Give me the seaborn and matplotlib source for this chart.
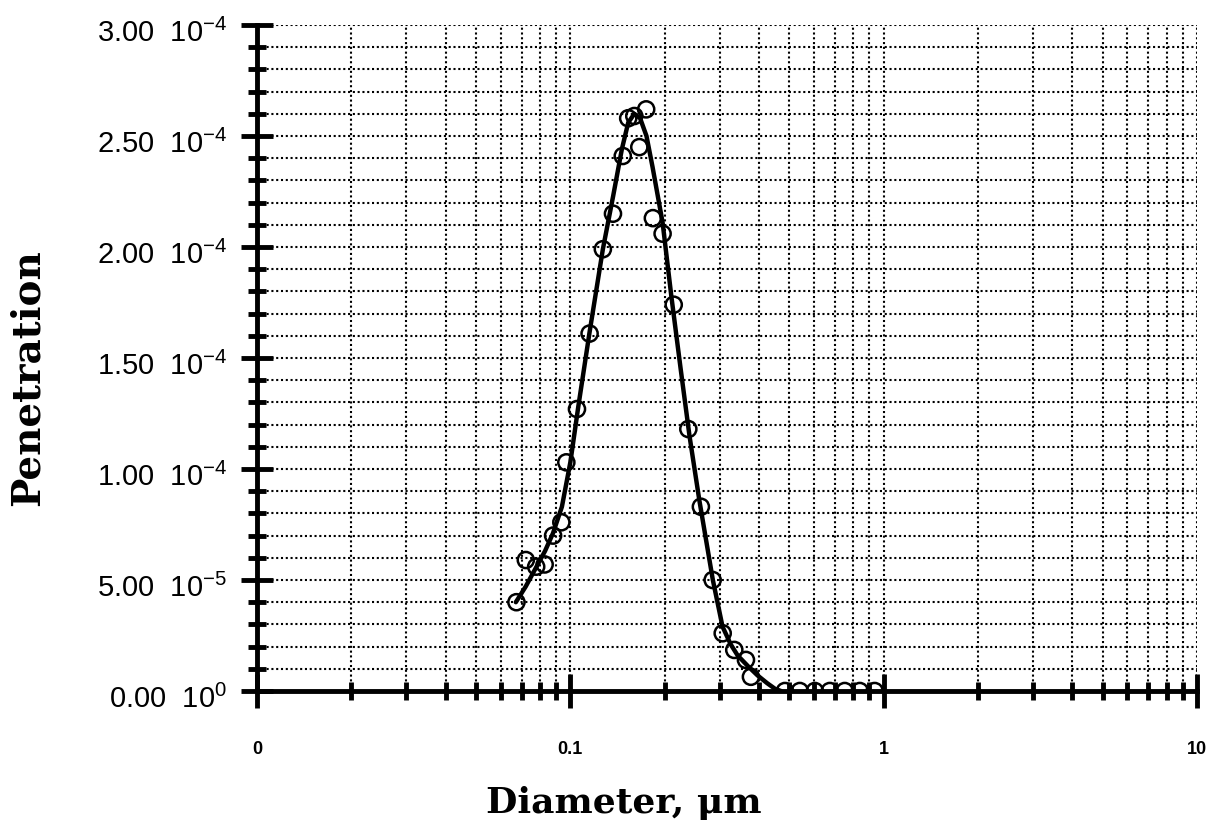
import matplotlib
matplotlib.use("Agg")
import matplotlib.pyplot as plt
import matplotlib.ticker as mticker
import matplotlib.transforms as mtrans
import seaborn as sns
import numpy as np

# ---- data ----
diam = [0.0673, 0.0721, 0.0778, 0.0828, 0.0881, 0.0936, 0.0971, 0.105, 0.1152,
        0.127, 0.1368, 0.147, 0.153, 0.160, 0.166, 0.1746, 0.1834, 0.197, 0.2138,
        0.238, 0.261, 0.2846, 0.3064, 0.3336, 0.3635, 0.377,
        0.484, 0.540, 0.603, 0.673, 0.751, 0.839, 0.936]
pen_e5 = [4.0, 5.9, 5.6, 5.7, 7.0, 7.6, 10.3, 12.7, 16.1,
          19.9, 21.5, 24.1, 25.8, 25.9, 24.5, 26.2, 21.3, 20.6, 17.4,
          11.8, 8.3, 5.0, 2.6, 1.85, 1.4, 0.64,
          0, 0, 0, 0, 0, 0, 0]

fit_diam = [0.067, 0.072, 0.078, 0.083, 0.088, 0.094, 0.100, 0.106, 0.115, 0.127,
            0.137, 0.146, 0.153, 0.160, 0.167, 0.175, 0.183, 0.197, 0.210, 0.225,
            0.240, 0.258, 0.285, 0.306, 0.325, 0.342, 0.370, 0.396, 0.425, 0.450, 0.470]
fit_pen_e5 = [4.0, 4.7, 5.6, 6.3, 7.1, 8.3, 10.3, 12.8, 16.1, 19.9,
              22.3, 24.4, 25.6, 26.0, 25.8, 25.0, 23.6, 21.1, 17.8, 14.5,
              11.5, 8.6, 5.0, 2.9, 2.1, 1.6, 1.1, 0.7, 0.35, 0.1, 0.0]

ytick_vals = [0, 5e-5, 1e-4, 1.5e-4, 2e-4, 2.5e-4, 3e-4]
ytick_labels = [r"0.00  10$^{0}$", r"5.00  10$^{-5}$", r"1.00  10$^{-4}$", r"1.50  10$^{-4}$",
                r"2.00  10$^{-4}$", r"2.50  10$^{-4}$", r"3.00  10$^{-4}$"]
xtick_vals = [0.01, 0.1, 1, 10]
xtick_labels = ["0", "0.1", "1", "10"]

pen = [v * 1e-5 for v in pen_e5]
fit_pen = [v * 1e-5 for v in fit_pen_e5]

# ---- style ----
sns.set_style("white")
plt.rcParams["font.family"] = ["Liberation Sans", "DejaVu Sans"]
plt.rcParams["mathtext.fontset"] = "custom"
plt.rcParams["mathtext.rm"] = "Liberation Sans"
plt.rcParams["mathtext.it"] = "Liberation Sans:italic"
plt.rcParams["mathtext.bf"] = "Liberation Sans:bold"
plt.rcParams["text.color"] = "black"
plt.rcParams["xtick.color"] = "black"
plt.rcParams["ytick.color"] = "black"

W, H = 1214, 823
fig = plt.figure(figsize=(W / 100, H / 100), dpi=100)
ax = fig.add_axes([257 / W, 1 - 691 / H, 940 / W, 666 / H])

ax.set_xscale("log")
ax.set_xlim(0.01, 10)
ax.set_ylim(0, 3e-4)

# grid
ax.yaxis.set_major_locator(mticker.FixedLocator(ytick_vals))
ax.yaxis.set_minor_locator(mticker.MultipleLocator(1e-5))
ax.xaxis.set_major_locator(mticker.FixedLocator(xtick_vals))
ax.xaxis.set_minor_locator(mticker.LogLocator(base=10, subs=np.arange(2, 10)))
ax.grid(which="both", color="black", linestyle=(0, (1.0, 1.3)), linewidth=1.5, zorder=0)
ax.set_axisbelow(True)

# data
sns.lineplot(x=fit_diam, y=fit_pen, ax=ax, color="black", linewidth=3.2,
             sort=False, estimator=None, zorder=3)
sns.scatterplot(x=diam, y=pen, ax=ax, marker="o", s=135, zorder=4)
coll = ax.collections[-1]
coll.set_facecolor("none")
coll.set_edgecolor("black")
coll.set_linewidth(1.8)

# spines
for s in ["top", "right"]:
    ax.spines[s].set_visible(False)
for s in ["left", "bottom"]:
    ax.spines[s].set_linewidth(3.5)
    ax.spines[s].set_color("black")
    ax.spines[s].set_zorder(5)

ax.set_yticks(ytick_vals, ytick_labels)
ax.set_xticks(xtick_vals, xtick_labels)
ax.xaxis.set_minor_formatter(mticker.NullFormatter())

ax.tick_params(which="both", left=True, bottom=True, top=False, right=False)
ax.tick_params(axis="y", which="major", direction="inout", length=23, width=3.5,
               labelsize=21, pad=10, color="black", labelcolor="black")
ax.tick_params(axis="y", which="minor", direction="inout", length=13, width=3.5, color="black")
ax.tick_params(axis="x", which="major", direction="inout", length=24, width=3.5,
               labelsize=13, pad=24, color="black", labelcolor="black")
ax.tick_params(axis="x", which="minor", direction="inout", length=13, width=3.5, color="black")
for lab in ax.get_xticklabels():
    lab.set_fontweight("bold")

off = mtrans.ScaledTranslation(0, -5 / 100, fig.dpi_scale_trans)
for lab in ax.get_yticklabels():
    lab.set_transform(lab.get_transform() + off)

fig.text(28 / W, 1 - 378 / H, "Penetration", rotation=90, ha="center", va="center",
         fontsize=28, fontweight="bold", family="DejaVu Serif", color="black")
fig.text(624 / W, 1 - 803 / H, "Diameter, \u03bcm", ha="center", va="center",
         fontsize=26, fontweight="bold", family="DejaVu Serif", color="black")

fig.savefig("out.png", dpi=100)
